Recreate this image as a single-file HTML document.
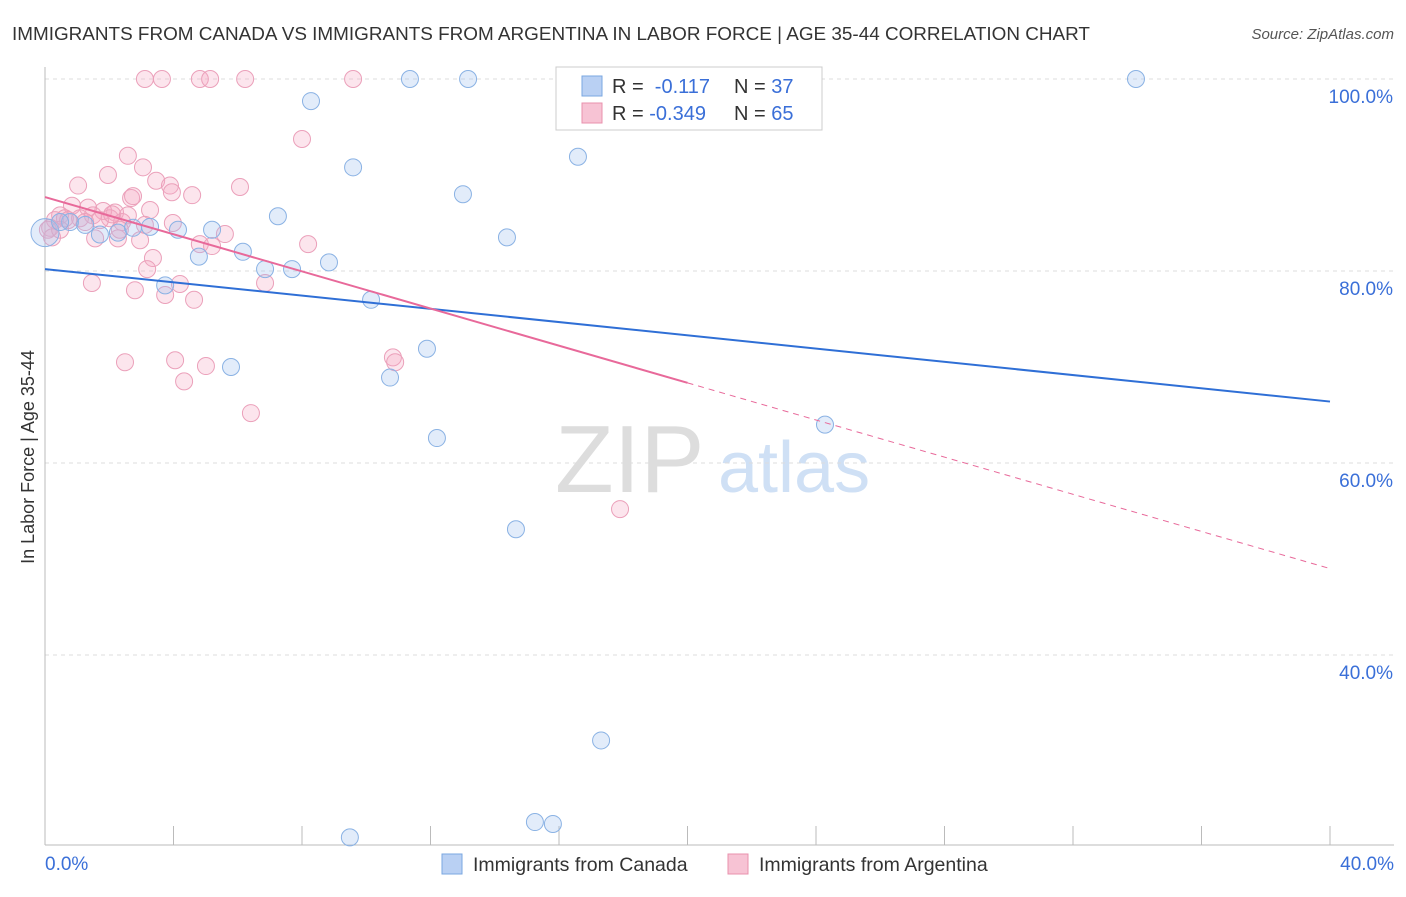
<!DOCTYPE html>
<html><head><meta charset="utf-8"><style>
body{margin:0;background:#fff;font-family:"Liberation Sans",sans-serif;}
svg text{font-family:"Liberation Sans",sans-serif;}
</style></head><body>
<svg id="c" width="1406" height="892">
<text x="12" y="40" font-size="18.9" fill="#333">IMMIGRANTS FROM CANADA VS IMMIGRANTS FROM ARGENTINA IN LABOR FORCE | AGE 35-44 CORRELATION CHART</text>
<text x="1394" y="39" font-size="15" fill="#555" font-style="italic" text-anchor="end">Source: ZipAtlas.com</text>
<text x="555" y="492" font-size="96" fill="#ddd" font-family="Liberation Serif">ZIP</text>
<text x="718" y="492" font-size="72" fill="#cfe0f5">atlas</text>
<text transform="translate(34,457) rotate(-90)" font-size="18" fill="#333" text-anchor="middle">In Labor Force | Age 35-44</text>
<g id="grid"></g><g id="pts"></g><g id="lines"></g>
<g>
<rect x="556" y="67" width="266" height="63" fill="#fff" stroke="#ccc"/>
<rect x="582" y="76" width="20" height="20" fill="#b9d0f3" stroke="#7aa7e0"/>
<rect x="582" y="103" width="20" height="20" fill="#f7c3d4" stroke="#e890ad"/>
<text x="612" y="93" font-size="20" fill="#333">R = <tspan fill="#3a6fd8">&#160;-0.117</tspan></text>
<text x="734" y="93" font-size="20" fill="#333">N = <tspan fill="#3a6fd8">37</tspan></text>
<text x="612" y="120" font-size="20" fill="#333">R = <tspan fill="#3a6fd8">-0.349</tspan></text>
<text x="734" y="120" font-size="20" fill="#333">N = <tspan fill="#3a6fd8">65</tspan></text>
</g>
<g>
<rect x="442" y="854" width="20" height="20" fill="#b9d0f3" stroke="#7aa7e0"/>
<text x="473" y="871" font-size="19.5" fill="#333">Immigrants from Canada</text>
<rect x="728" y="854" width="20" height="20" fill="#f7c3d4" stroke="#e890ad"/>
<text x="759" y="871" font-size="19.5" fill="#333">Immigrants from Argentina</text>
</g>
</svg>
<script>
const blueX=[0.0,0.78,1.25,1.71,2.27,2.74,3.27,3.74,4.14,4.79,5.2,5.79,6.16,6.85,7.25,7.69,8.28,8.84,9.59,10.15,10.74,11.36,11.89,12.2,13.01,13.17,14.38,14.66,15.25,15.81,16.59,17.31,20.76,24.28,33.96,9.49,0.47];
const blueY=[84.0,85.1,84.8,83.8,84.0,84.5,84.6,78.5,84.3,81.5,84.3,70.0,82.0,80.2,85.7,80.2,97.7,80.9,90.8,77.0,68.9,100,71.9,62.6,88.0,100,83.5,53.1,22.6,22.4,91.9,31.1,100,64.0,100,21.0,85.1];
const pinkX=[3.11,3.64,4.82,5.14,6.23,9.59,8.0,2.58,3.05,3.46,1.03,1.96,3.89,3.95,4.58,6.07,2.68,2.74,3.27,2.18,1.81,1.34,0.84,0.47,0.31,0.16,0.62,1.09,1.49,2.02,2.4,2.96,2.27,1.56,3.98,4.82,5.2,5.6,8.19,3.36,3.18,1.46,2.8,3.74,4.2,4.64,6.85,2.49,4.05,5.01,4.33,6.41,10.83,10.9,17.9,0.09,0.22,0.72,1.71,2.09,3.11,2.58,1.25,2.33,0.47];
const pinkY=[100,100,100,100,100,100,93.75,92.0,90.8,89.4,88.9,90.0,88.9,88.2,87.9,88.75,87.6,87.8,86.35,86.1,86.25,86.6,86.8,85.8,85.3,84.5,85.5,85.5,85.8,85.5,85.1,83.2,83.4,83.4,85.0,82.8,82.6,83.85,82.8,81.35,80.2,78.75,78.0,77.5,78.65,77.0,78.75,70.5,70.7,70.1,68.5,65.2,71.0,70.5,55.2,84.3,83.5,85.3,85.3,85.9,84.8,85.8,85.1,84.3,84.3];
const blueFit=[80.2,66.4];
const pinkFit=[87.7,49.0];
const yTicks=[100,80,60,40];
const yTickLabels=["100.0%","80.0%","60.0%","40.0%"];
const xTicks=[0,4,8,12,16,20,24,28,32,36,40];
const X=v=>45+v/40*1285, Y=v=>79+(100-v)*9.6;
const NS="http://www.w3.org/2000/svg";
function mk(p,t,a){const e=document.createElementNS(NS,t);for(const k in a)e.setAttribute(k,a[k]);p.appendChild(e);return e;}
const g=document.getElementById('grid');
yTicks.forEach((t,i)=>{
 const l=mk(g,'line',{x1:45,x2:1394,y1:Y(t),y2:Y(t),stroke:'#ddd','stroke-dasharray':'4,4'});
 
 
 const tx=mk(g,'text',{x:1393,y:Y(t)+24,'font-size':19,fill:'#3a6fd8','text-anchor':'end'});tx.textContent=yTickLabels[i];
 
 
});
const ax=mk(g,'line',{x1:45,x2:1394,y1:845,y2:845,stroke:'#bbb'});


const ay=mk(g,'line',{x1:45,x2:45,y1:67,y2:845,stroke:'#bbb'});


xTicks.forEach(t=>{const l=mk(g,'line',{x1:X(t),x2:X(t),y1:826,y2:845,stroke:'#bbb'});
 
 });
[[0,'0.0%','start',45],[40,'40.0%','end',1394]].forEach(a=>{const t=mk(g,'text',{x:a[3],y:870,'font-size':19,fill:'#3a6fd8','text-anchor':a[2]});t.textContent=a[1];
 
 });
const P=document.getElementById('pts');
pinkX.forEach((x,i)=>{const c=mk(P,'circle',{cx:X(x),cy:Y(pinkY[i]),r:8.5,fill:'rgba(245,170,195,0.3)',stroke:'#eba0ba','stroke-width':1});
 
 });
blueX.forEach((x,i)=>{const c=mk(P,'circle',{cx:X(x),cy:Y(blueY[i]),r:i==0?14:8.5,fill:'rgba(160,192,240,0.3)',stroke:'#8ab2e4','stroke-width':1});
 
 });
const L=document.getElementById('lines');
const bl=mk(L,'line',{x1:X(0),y1:Y(blueFit[0]),x2:X(40),y2:Y(blueFit[1]),stroke:'#2f6fd6','stroke-width':2});


const pm=pinkFit[0]+(pinkFit[1]-pinkFit[0])*0.5;
const pl=mk(L,'line',{x1:X(0),y1:Y(pinkFit[0]),x2:X(20),y2:Y(pm),stroke:'#e8699a','stroke-width':2});


const pd=mk(L,'line',{x1:X(20),y1:Y(pm),x2:X(40),y2:Y(pinkFit[1]),stroke:'#e8699a','stroke-width':1,'stroke-dasharray':'6,5'});


</script>
</body></html>
